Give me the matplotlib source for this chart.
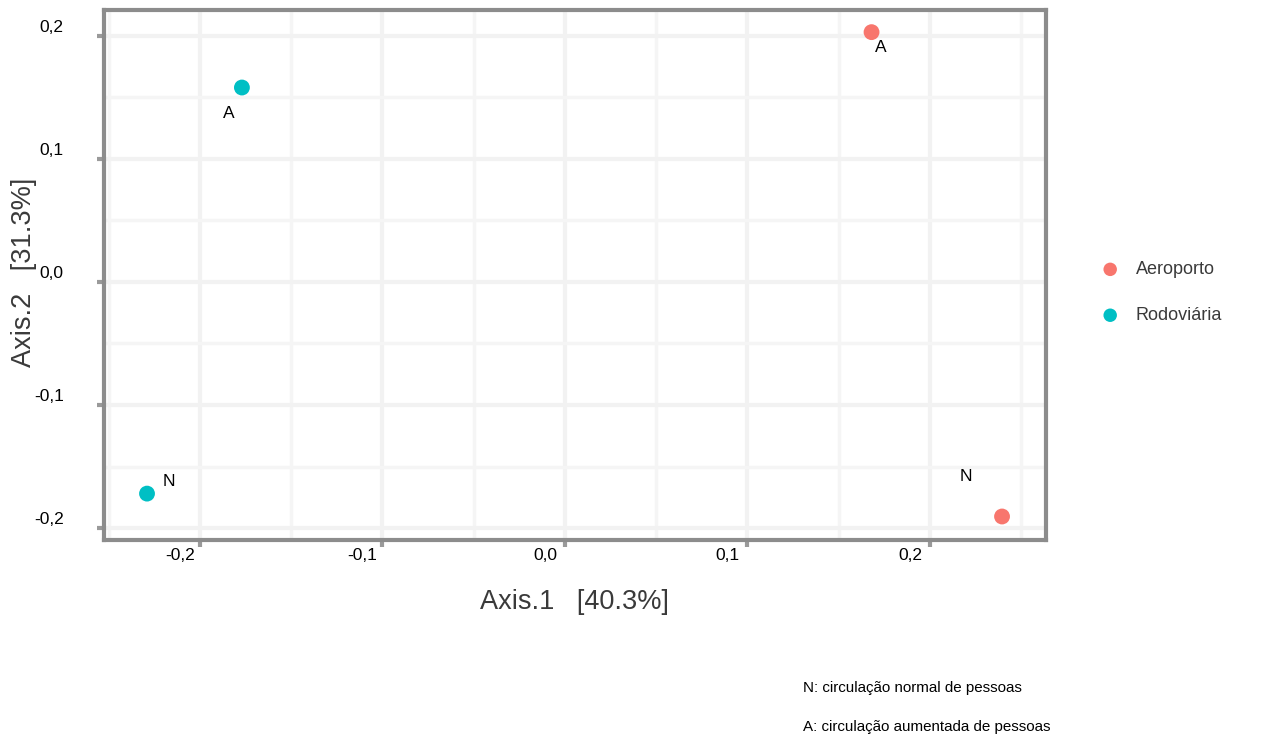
import numpy as np
import matplotlib
matplotlib.use("Agg")
from matplotlib import pyplot as plt
from matplotlib.transforms import ScaledTranslation

plt.rcParams['font.family'] = ['Liberation Sans', 'DejaVu Sans']

# PCoA coordinates per site and condition
groups = ["Aeroporto", "Rodoviária"]
colors = ["#F8766D", "#00BFC4"]
axis1 = {"Aeroporto": [0.168, 0.2395], "Rodoviária": [-0.177, -0.229]}
axis2 = {"Aeroporto": [0.203, -0.1906], "Rodoviária": [0.158, -0.172]}
tags = {"Aeroporto": ["A", "N"], "Rodoviária": ["A", "N"]}
# label offsets in pixels (dx, dy) for each point
tag_offsets = {"Aeroporto": [(3, -15), (-42, 40)], "Rodoviária": [(-19, -26), (16, 12)]}

xticks = [-0.2, -0.1, 0.0, 0.1, 0.2]
yticks = [-0.2, -0.1, 0.0, 0.1, 0.2]
tick_labels = ["-0,2", "-0,1", "0,0", "0,1", "0,2"]

fig = plt.figure(figsize=(12.63, 7.35), dpi=100)
ax = fig.add_axes([0.0823, 0.2653, 0.7459, 0.7211])

ax.set_xlim(-0.2526, 0.2636)
ax.set_ylim(-0.2097, 0.221)

ax.set_xticks(xticks)
ax.set_xticklabels(tick_labels, fontsize=12.5)
ax.set_yticks(yticks)
ax.set_yticklabels(tick_labels, fontsize=12.5)
ax.set_xticks(np.arange(-0.25, 0.27, 0.1), minor=True)
ax.set_yticks(np.arange(-0.15, 0.2, 0.1), minor=True)

ax.grid(True, which="major", color="#f2f2f2", linewidth=3, zorder=0)
ax.grid(True, which="minor", color="#f5f5f5", linewidth=2.5, zorder=0)
ax.tick_params(which="major", length=5, width=3, color="#9a9a9a")
ax.tick_params(axis="x", which="major", pad=1)
ax.tick_params(axis="y", which="major", pad=6)
ax.tick_params(which="minor", length=0)

# shift tick labels the way they sit in the original layout
dpi = fig.dpi
for lab in ax.get_xticklabels():
    lab.set_transform(lab.get_transform() + ScaledTranslation(-20 / dpi, 0, fig.dpi_scale_trans))
for lab in ax.get_yticklabels():
    lab.set_transform(lab.get_transform() + ScaledTranslation(-25 / dpi, 10 / dpi, fig.dpi_scale_trans))

for sp in ax.spines.values():
    sp.set_color("#8c8c8c")
    sp.set_linewidth(3)

for g, c in zip(groups, colors):
    ax.scatter(axis1[g], axis2[g], s=130, color=c, edgecolors="none", label=g, zorder=3)
    for x, y, t, (dx, dy) in zip(axis1[g], axis2[g], tags[g], tag_offsets[g]):
        ax.annotate(t, (x, y), xytext=(dx * 0.72, dy * 0.72), textcoords="offset points",
                    fontsize=12.5, ha="left", va="center", color="black")

fig.text(0.455, 0.181, "Axis.1   [40.3%]", fontsize=19.5, color="#3a3a3a", ha="center", va="center")
fig.text(0.019, 0.630, "Axis.2   [31.3%]", fontsize=19.5, color="#3a3a3a", ha="center", va="center",
         rotation=90)

leg = ax.legend(loc="center left", bbox_to_anchor=(0.859, 0.602), bbox_transform=fig.transFigure,
                frameon=False, fontsize=13, labelspacing=1.6,
                handletextpad=0.4, markerscale=0.85, borderaxespad=0)
for txt in leg.get_texts():
    txt.set_color("#3a3a3a")

fig.text(0.636, 0.064, "N: circulação normal de pessoas", fontsize=10.9, ha="left", va="center")
fig.text(0.636, 0.011, "A: circulação aumentada de pessoas", fontsize=10.9, ha="left", va="center")

fig.savefig("out.png", dpi=100)
